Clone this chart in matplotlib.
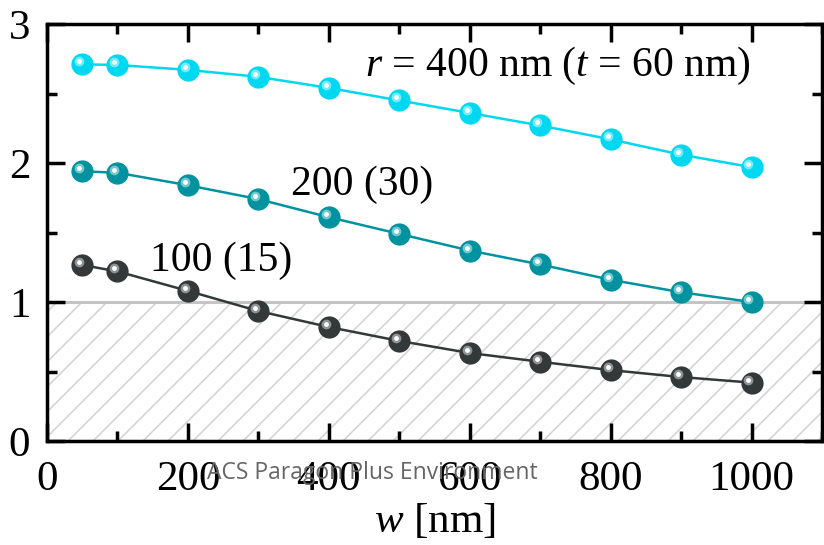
import matplotlib
matplotlib.use("Agg")
import matplotlib.pyplot as plt
import matplotlib.transforms as mtransforms
from matplotlib.patches import Rectangle
from matplotlib.ticker import MultipleLocator
import numpy as np

plt.rcParams['font.family'] = ['Liberation Serif', 'DejaVu Serif']
plt.rcParams['mathtext.fontset'] = 'custom'
plt.rcParams['mathtext.rm'] = 'Liberation Serif'
plt.rcParams['mathtext.it'] = 'Liberation Serif:italic'

# Data
w = [50, 100, 200, 300, 400, 500, 600, 700, 800, 900, 1000]
r400 = [2.71, 2.705, 2.67, 2.62, 2.54, 2.45, 2.36, 2.27, 2.17, 2.06, 1.97]
r200 = [1.94, 1.93, 1.84, 1.74, 1.61, 1.49, 1.37, 1.27, 1.16, 1.07, 1.00]
r100 = [1.266, 1.22, 1.08, 0.935, 0.82, 0.72, 0.633, 0.57, 0.51, 0.46, 0.42]
series = [
    (r400, '#00d8f2', '#7ff0ff'),
    (r200, '#00929e', '#80cfd6'),
    (r100, '#333838', '#9a9e9e'),
]
labels = [r'$r$ = 400 nm ($t$ = 60 nm)', '200 (30)', '100 (15)']
label_pos = [(451, 2.70), (347, 1.84), (146, 1.30)]

W, H = 824, 545
fig = plt.figure(figsize=(W/100, H/100), dpi=100)
L, R, T, B = 47, 822, 24, 441
ax = fig.add_axes([L/W, 1-B/H, (R-L)/W, (B-T)/H])
ax.set_xlim(0, 1100)
ax.set_ylim(0, 3)

# hatched region below 1 (diagonal lines drawn in axes-pixel space)
box = Rectangle((0, 0), 1100, 1, facecolor='none', edgecolor='none', zorder=1)
ax.add_patch(box)
px_w, px_h = R - L, B - T
hatch_h = px_h / 3.0
spacing = 25.0
for x0 in np.arange(21 - 25*8, px_w + 25, spacing):
    xs = np.array([x0, x0 + hatch_h]) / px_w
    ys = np.array([0, hatch_h]) / px_h
    ln, = ax.plot(xs, ys, transform=ax.transAxes, color='#d2d2d2', lw=1.1, zorder=1)
    ln.set_clip_path(box)
ax.plot([0, 1100], [1, 1], color='#c4c4c4', lw=2.2, zorder=1.5)
ax.plot([0, 0], [0, 1], color='#c4c4c4', lw=2.2, zorder=1.5)

off_hl = mtransforms.offset_copy(ax.transData, fig=fig, x=-2.2, y=2.2, units='points')
for vals, col, light in series:
    ax.plot(w, vals, '-', color=col, lw=1.8, zorder=2)
    ax.plot(w, vals, 'o', color=col, ms=16, mec=col, mew=0, zorder=3)
    ax.plot(w, vals, 'o', color=light, ms=7, mew=0, zorder=4, transform=off_hl, alpha=0.9)
    ax.plot(w, vals, 'o', color='white', ms=3.5, mew=0, zorder=5, transform=off_hl)

for txt, (x, y) in zip(labels, label_pos):
    ax.text(x, y, txt, fontsize=30, ha='left', va='center', zorder=6)

for s in ax.spines.values():
    s.set_linewidth(2.5)
    s.set_zorder(7)

ax.xaxis.set_major_locator(MultipleLocator(200))
ax.xaxis.set_minor_locator(MultipleLocator(100))
ax.yaxis.set_major_locator(MultipleLocator(1))
ax.yaxis.set_minor_locator(MultipleLocator(0.5))
ax.tick_params(which='both', direction='in', top=True, right=True, width=2.5,
               labelsize=31)
ax.tick_params(which='major', length=13)
ax.tick_params(which='minor', length=7)
ax.tick_params(axis='x', which='both', pad=14)
ax.tick_params(axis='y', which='both', pad=12)

ax.set_xlabel(r'$w$ [nm]', fontsize=31, labelpad=2)

fig.text(372/W, 1-473/H, 'ACS Paragon Plus Environment', fontsize=16.5,
         color='#666666', ha='center', va='center', family=['Open Sans', 'DejaVu Sans'], zorder=10)

fig.savefig('out.png', dpi=100)
